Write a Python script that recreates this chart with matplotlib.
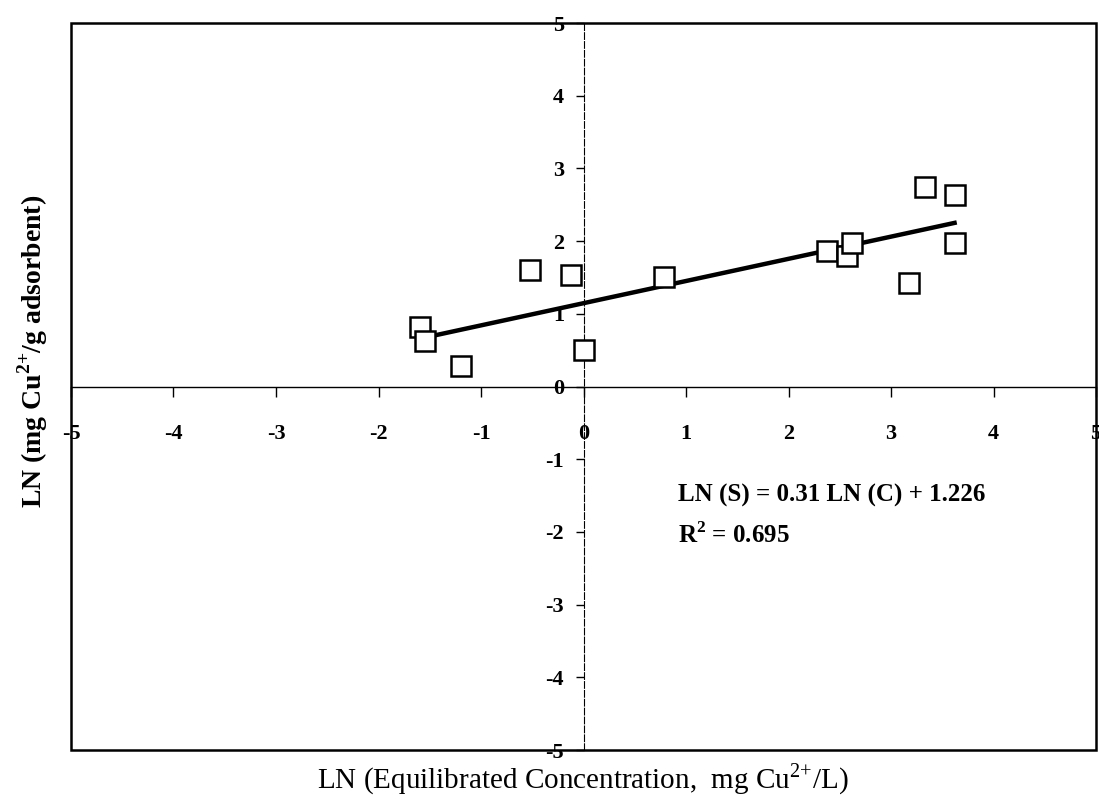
import matplotlib
matplotlib.use("Agg")
import matplotlib.pyplot as plt
import numpy as np
from matplotlib.patches import Rectangle

# ln of equilibrium concentration vs ln of uptake
ln_c = [-1.60, -1.55, -1.20, -0.52, -0.12, 0.00, 0.79, 2.38, 2.57, 2.62, 3.18, 3.62, 3.33, 3.62]
ln_s = [0.82, 0.62, 0.28, 1.60, 1.53, 0.50, 1.50, 1.87, 1.80, 1.97, 1.43, 1.98, 2.74, 2.63]
ticks = [-5, -4, -3, -2, -1, 0, 1, 2, 3, 4, 5]
eq_text = "LN (S) = 0.31 LN (C) + 1.226"
r2_text = r"R$^{\mathbf{2}}$ = 0.695"

plt.rcParams['font.family'] = 'Liberation Serif'
plt.rcParams['mathtext.fontset'] = 'custom'
plt.rcParams['mathtext.rm'] = 'Liberation Serif'
plt.rcParams['mathtext.bf'] = 'Liberation Serif:bold'
plt.rcParams['axes.unicode_minus'] = False

fig = plt.figure(figsize=(10.99, 7.99), dpi=100)
ax = fig.add_axes([0.0646, 0.0613, 0.9327, 0.9099])

# axes crossing at the origin (set before tick styling, it resets ticks)
ax.spines['left'].set_position(('data', 0))
ax.spines['bottom'].set_position(('data', 0))
ax.spines['left'].set_linestyle((0, (6, 2)))
ax.spines['left'].set_linewidth(0.8)
ax.spines['bottom'].set_linewidth(1.0)
ax.spines['right'].set_visible(False)
ax.spines['top'].set_visible(False)

x = np.array(ln_c)
y = np.array(ln_s)
slope, icpt = np.polyfit(x, y, 1)
xl = np.array([x.min(), x.max()])
ax.plot(xl, slope * xl + icpt, color='black', lw=3.2, zorder=2)
ax.plot(x, y, ls='none', marker='s', ms=14, mfc='white', mec='black', mew=1.8, zorder=3)

ax.set_xlim(-5, 5)
ax.set_ylim(-5, 5)
ax.set_xticks(ticks)
ax.set_yticks(ticks)
ax.tick_params(axis='x', direction='out', length=7, width=1, pad=20, labelsize=16)
ax.tick_params(axis='y', direction='out', length=6, width=1, pad=8, labelsize=16)
for lab in ax.get_xticklabels() + ax.get_yticklabels():
    lab.set_fontweight('bold')

ax.add_patch(Rectangle((0, 0), 1, 1, transform=ax.transAxes, fill=False,
                       lw=1.8, ec='black', clip_on=False, zorder=4))

ax.text(0.92, -1.5, eq_text, fontsize=18, fontweight='bold', va='center')
ax.text(0.92, -2.05, r2_text, fontsize=18, fontweight='bold', va='center')

fig.text(0.53, 0.025, r"LN (Equilibrated Concentration,  mg Cu$^{2{+}}$/L)",
         ha='center', va='center', fontsize=21)
fig.text(0.03, 0.56, r"LN (mg Cu$^{\mathbf{2{+}}}$/g adsorbent)", rotation=90,
         ha='center', va='center', fontsize=20, fontweight='bold')

fig.savefig("out.png", dpi=100)
